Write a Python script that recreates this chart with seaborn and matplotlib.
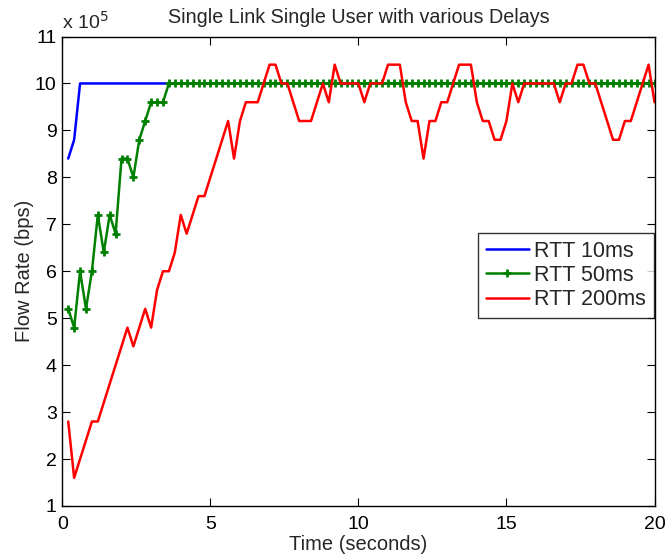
import numpy as np
import pandas as pd
import matplotlib
matplotlib.use("Agg")
import matplotlib.pyplot as plt
import seaborn as sns

# ---- data (rates in units of 1e5 bps) ----
time_s = [round(0.2 * i, 1) for i in range(1, 101)]

rtt10 = [8.4, 8.8] + [10.0] * 98

rtt50 = [5.2, 4.8, 6.0, 5.2, 6.0, 7.2, 6.4, 7.2, 6.8, 8.4,
         8.4, 8.0, 8.8, 9.2, 9.6, 9.6, 9.6] + [10.0] * 83

rtt200 = [2.8, 1.6, 2.0, 2.4, 2.8, 2.8, 3.2, 3.6, 4.0, 4.4,
          4.8, 4.4, 4.8, 5.2, 4.8, 5.6, 6.0, 6.0, 6.4, 7.2,
          6.8, 7.2, 7.6, 7.6, 8.0, 8.4, 8.8, 9.2, 8.4, 9.2,
          9.6, 9.6, 9.6, 10.0, 10.4, 10.4, 10.0, 10.0, 9.6, 9.2,
          9.2, 9.2, 9.6, 10.0, 9.6, 10.4, 10.0, 10.0, 10.0, 10.0,
          9.6, 10.0, 10.0, 10.0, 10.4, 10.4, 10.4, 9.6, 9.2, 9.2,
          8.4, 9.2, 9.2, 9.6, 9.6, 10.0, 10.4, 10.4, 10.4, 9.6,
          9.2, 9.2, 8.8, 8.8, 9.2, 10.0, 9.6, 10.0, 10.0, 10.0,
          10.0, 10.0, 10.0, 9.6, 10.0, 10.0, 10.4, 10.4, 10.0, 10.0,
          9.6, 9.2, 8.8, 8.8, 9.2, 9.2, 9.6, 10.0, 10.4, 9.6]

series_names = ["RTT 10ms", "RTT 50ms", "RTT 200ms"]
x_ticks = [0, 5, 10, 15, 20]
y_ticks = [1, 2, 3, 4, 5, 6, 7, 8, 9, 10, 11]

assert len(rtt10) == len(rtt50) == len(rtt200) == len(time_s)

df = pd.DataFrame({"t": time_s * 3,
                   "rate": rtt10 + rtt50 + rtt200,
                   "series": [series_names[0]] * 100 + [series_names[1]] * 100 + [series_names[2]] * 100})

sns.set_style("white")
plt.rcParams["font.family"] = ["Liberation Sans", "DejaVu Sans"]

fig = plt.figure(figsize=(6.68, 5.59), dpi=100)
ax = fig.add_axes([62.3 / 668, 53 / 559, 592.2 / 668, 469.5 / 559])

colors = {"RTT 10ms": "#0000ff", "RTT 50ms": "#008000", "RTT 200ms": "#ff0000"}
for name in series_names:
    sub = df[df["series"] == name]
    kw = {}
    if name == "RTT 50ms":
        kw = dict(marker="+", markersize=5.5, markeredgewidth=2.0, markeredgecolor=colors[name])
    sns.lineplot(data=sub, x="t", y="rate", ax=ax, color=colors[name], lw=1.8,
                 estimator=None, sort=False, label=name, **kw)

ax.set_xlim(0, 20)
ax.set_ylim(1, 11)
ax.set_xticks(x_ticks)
ax.set_yticks(y_ticks)
ax.set_xticklabels([str(v) for v in x_ticks], fontsize=14)
ax.set_yticklabels([str(v) for v in y_ticks], fontsize=14)
ax.tick_params(direction="in", length=6, width=0.8, top=True, right=True,
               bottom=True, left=True, colors="black")
ax.tick_params(axis="x", pad=7)
ax.tick_params(axis="y", pad=4)
for s in ax.spines.values():
    s.set_visible(True)
    s.set_color("black")
    s.set_linewidth(1.0)

ax.set_xlabel("Time (seconds)", fontsize=14.5, labelpad=2)
ax.set_ylabel("Flow Rate (bps)", fontsize=14.5, labelpad=1)
ax.set_title("Single Link Single User with various Delays", fontsize=14.2, pad=10)

fig.text(62 / 668, 1 - 29 / 559, "x 10$^{5}$", fontsize=14, ha="left", va="baseline")

leg = ax.legend(loc="upper right", bbox_to_anchor=(0.9985, 0.581), borderaxespad=0,
                fontsize=15.5, frameon=True, fancybox=False, edgecolor="black",
                handlelength=2.0, handletextpad=0.25, borderpad=0.35, labelspacing=0.15)
leg.get_frame().set_linewidth(1.0)
for h in leg.get_lines():
    h.set_linewidth(1.8)

fig.savefig("out.png", dpi=100)
